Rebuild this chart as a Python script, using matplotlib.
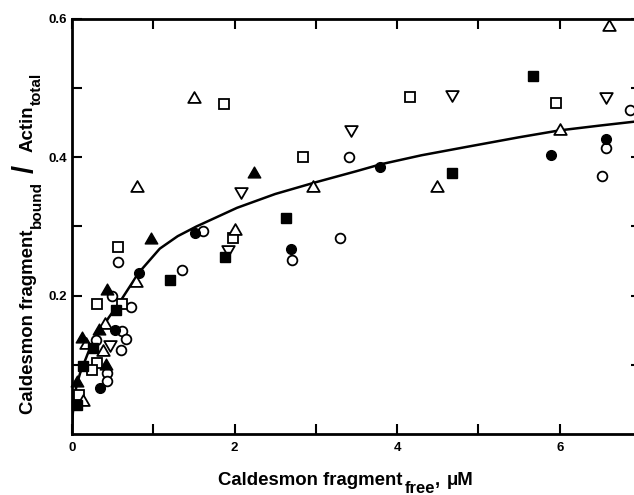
import matplotlib
matplotlib.use("Agg")
import matplotlib.pyplot as plt
from matplotlib.path import Path

plt.rcParams['font.family'] = ['Liberation Sans', 'DejaVu Sans']
plt.rcParams['font.weight'] = 'bold'

# ---------------- data ----------------
open_circle_x = [6.86, 6.57, 6.52, 3.41, 3.30, 1.61, 2.71, 1.35, 0.56, 0.49, 0.73, 0.62, 0.67, 0.60, 0.30, 0.43, 0.43]
open_circle_y = [0.468, 0.413, 0.373, 0.401, 0.284, 0.294, 0.252, 0.237, 0.248, 0.199, 0.184, 0.149, 0.138, 0.121, 0.136, 0.088, 0.077]

filled_circle_x = [6.57, 5.89, 3.79, 1.51, 2.70, 0.82, 0.53, 0.34]
filled_circle_y = [0.426, 0.404, 0.386, 0.290, 0.268, 0.233, 0.151, 0.067]

open_square_x = [1.87, 4.16, 5.95, 2.84, 1.98, 0.56, 0.31, 0.62, 0.31, 0.25, 0.08]
open_square_y = [0.477, 0.487, 0.478, 0.401, 0.283, 0.270, 0.188, 0.188, 0.102, 0.092, 0.057]

filled_square_x = [5.67, 4.67, 2.63, 1.88, 1.21, 0.54, 0.26, 0.14, 0.065]
filled_square_y = [0.518, 0.377, 0.313, 0.256, 0.223, 0.179, 0.124, 0.099, 0.042]

open_tri_up_x = [6.61, 1.50, 0.80, 2.96, 4.49, 6.00, 2.00, 0.79, 0.41, 0.38, 0.17, 0.13]
open_tri_up_y = [0.591, 0.487, 0.358, 0.358, 0.358, 0.441, 0.297, 0.221, 0.161, 0.121, 0.131, 0.049]

filled_tri_up_x = [2.24, 0.97, 0.43, 0.33, 0.12, 0.42, 0.06]
filled_tri_up_y = [0.379, 0.283, 0.210, 0.152, 0.140, 0.101, 0.076]

open_tri_down_x = [4.67, 6.57, 3.43, 2.08, 1.92, 0.47]
open_tri_down_y = [0.489, 0.486, 0.438, 0.348, 0.265, 0.127]

curve_x = [0.0, 0.01, 0.03, 0.06, 0.10, 0.20, 0.30, 0.45, 0.60, 0.82, 1.08, 1.30, 1.53,
           2.03, 2.50, 3.00, 3.50, 3.80, 4.30, 4.85, 5.50, 6.00, 6.50, 6.95]
curve_y = [0.0, 0.030, 0.055, 0.072, 0.088, 0.118, 0.140, 0.168, 0.193, 0.233, 0.268, 0.286, 0.300,
           0.327, 0.347, 0.364, 0.380, 0.390, 0.403, 0.415, 0.429, 0.439, 0.446, 0.452]

x_major = [0, 2, 4, 6]
x_major_labels = ['0', '2', '4', '6']
x_minor = [1, 3, 5]
y_major = [0.2, 0.4, 0.6]
y_major_labels = ['0.2', '0.4', '0.6']
y_minor = [0.1, 0.3, 0.5]

# ---------------- figure ----------------
W, H = 634, 495
fig = plt.figure(figsize=(W / 100, H / 100), dpi=100)
ax = fig.add_axes([72 / W, 1 - 434 / H, 569 / W, 415 / H])
ax.set_xlim(0, 7)
ax.set_ylim(0, 0.6)

for sp in ax.spines.values():
    sp.set_linewidth(2.0)

ax.set_xticks(x_major)
ax.set_xticklabels(x_major_labels)
ax.set_xticks(x_minor, minor=True)
ax.set_yticks(y_major)
ax.set_yticklabels(y_major_labels)
ax.set_yticks(y_minor, minor=True)
ax.tick_params(which='both', direction='in', length=7, width=1.5,
               top=True, right=True, labelsize=9.5)
ax.tick_params(axis='y', pad=3.5)
ax.tick_params(axis='x', pad=6)
for lab in ax.get_xticklabels() + ax.get_yticklabels():
    lab.set_fontweight('bold')

ax.plot(curve_x, curve_y, color='black', lw=1.8, zorder=2, solid_joinstyle='round')

tri_up = Path([(-1, -0.866), (1, -0.866), (0, 0.866), (-1, -0.866)], closed=True)
tri_dn = Path([(-1, 0.866), (1, 0.866), (0, -0.866), (-1, 0.866)], closed=True)

common = dict(linestyle='none', mec='black', zorder=3, clip_on=False)
ax.plot(open_circle_x, open_circle_y, marker='o', ms=7, mfc='white', mew=1.3, **common)
ax.plot(open_square_x, open_square_y, marker='s', ms=7, mfc='white', mew=1.3, **common)
ax.plot(open_tri_up_x, open_tri_up_y, marker=tri_up, ms=9, mfc='white', mew=1.3, **common)
ax.plot(open_tri_down_x, open_tri_down_y, marker=tri_dn, ms=9, mfc='white', mew=1.3, **common)
ax.plot(filled_circle_x, filled_circle_y, marker='o', ms=7, mfc='black', mew=1.0, **common)
ax.plot(filled_square_x, filled_square_y, marker='s', ms=7, mfc='black', mew=1.0, **common)
ax.plot(filled_tri_up_x, filled_tri_up_y, marker=tri_up, ms=9, mfc='black', mew=1.0, **common)

# ---------------- labels built from pieces ----------------
renderer = fig.canvas.get_renderer()


def draw_pieces(x_px, y_px, pieces, rotation=0):
    pos = 0.0
    for s, size, shift, gap in pieces:
        pos += gap
        if rotation == 0:
            tx, ty = x_px + pos, y_px + shift
        else:
            tx, ty = x_px + shift, y_px - pos
        t = fig.text(tx / W, 1 - ty / H, s, fontsize=size, fontweight='bold',
                     rotation=rotation, rotation_mode='anchor', ha='left', va='baseline')
        bb = t.get_window_extent(renderer)
        pos += bb.width if rotation == 0 else bb.height


draw_pieces(218, 485, [("Caldesmon fragment", 13.4, 0, 0),
                       ("free", 12.0, 8, 2),
                       (",", 13.4, 0, 0),
                       ("\u03bcM", 13.4, 0, 7)])

draw_pieces(33, 414, [("Caldesmon fragment", 13.4, 0, 0),
                      ("bound", 11.0, 8, 1),
                      ("/", 21.0, 1, 9),
                      ("Actin", 13.4, 0, 12),
                      ("total", 11.0, 8, 1)], rotation=90)

fig.savefig("out.png", dpi=100)
